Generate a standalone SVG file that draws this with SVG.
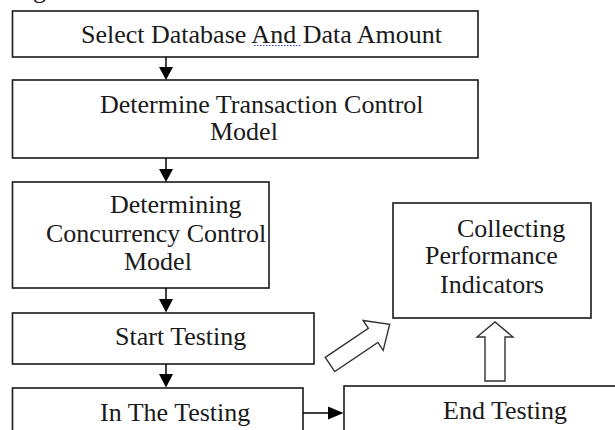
<svg xmlns="http://www.w3.org/2000/svg" width="615" height="430" viewBox="0 0 615 430">
<style>
.box{fill:#fff;stroke:#1a1a1a;stroke-width:1.6}
.t{font-family:'Liberation Serif',Tinos,'Times New Roman','DejaVu Serif',serif;font-size:26px;fill:#1a1a1a}
.ln{stroke:#000;stroke-width:1.5;fill:none}
.hd{fill:#000}
.blk{fill:#fff;stroke:#333;stroke-width:1.4;stroke-linejoin:miter}
</style>
<rect width="615" height="430" fill="#fff"/>
<text class="t" x="33" y="-2">g</text>
<g id="n1">
<rect class="box" x="12.5" y="11" width="465.5" height="46"/>
<text class="t" x="81" y="43">Select Database And Data Amount</text>
<line x1="254" y1="45.5" x2="302" y2="45.5" stroke="#2a3cf0" stroke-width="1" stroke-dasharray="1.5 1.5"/>
</g>
<g id="n2">
<rect class="box" x="12.5" y="80" width="465.5" height="78"/>
<text class="t" x="100" y="113">Determine Transaction Control</text>
<text class="t" x="210" y="140">Model</text>
</g>
<g id="n3">
<rect class="box" x="12.5" y="182" width="256.5" height="106"/>
<text class="t" x="110" y="213">Determining</text>
<text class="t" x="46" y="242">Concurrency Control</text>
<text class="t" x="124" y="270">Model</text>
</g>
<g id="n4">
<rect class="box" x="12.5" y="313" width="301.5" height="51"/>
<text class="t" x="115" y="345">Start Testing</text>
</g>
<g id="n5">
<rect class="box" x="12.5" y="388" width="290.5" height="60"/>
<text class="t" x="100" y="421">In The Testing</text>
</g>
<g id="n6">
<rect class="box" x="344" y="386" width="290" height="60"/>
<text class="t" x="443" y="419">End Testing</text>
</g>
<g id="n7">
<rect class="box" x="393" y="203" width="198" height="115"/>
<text class="t" x="457" y="237">Collecting</text>
<text class="t" x="425" y="264">Performance</text>
<text class="t" x="440" y="293">Indicators</text>
</g>
<g id="connectors">
<line class="ln" x1="166" y1="57" x2="166" y2="68"/>
<polygon class="hd" points="159,67 173,67 166,80"/>
<line class="ln" x1="166" y1="158" x2="166" y2="170"/>
<polygon class="hd" points="159,169 173,169 166,182"/>
<line class="ln" x1="166" y1="288" x2="166" y2="300"/>
<polygon class="hd" points="159,299 173,299 166,312.5"/>
<line class="ln" x1="166" y1="364" x2="166" y2="375"/>
<polygon class="hd" points="159,374 173,374 166,387.5"/>
<line class="ln" x1="303" y1="413" x2="330" y2="413"/>
<polygon class="hd" points="328,406.5 328,419.5 343.5,413"/>
<polygon class="blk" transform="translate(330,364.5) rotate(-34)" points="0,-8.5 52,-8.5 52,-18 72,0 52,18 52,8.5 0,8.5"/>
<polygon class="blk" points="485,381 485,337 477,337 495,322 513,337 505,337 505,381"/>
</g>
</svg>
